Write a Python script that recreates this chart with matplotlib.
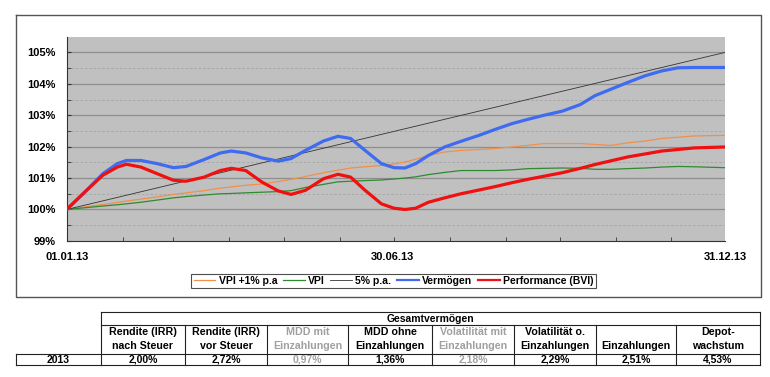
import matplotlib
matplotlib.use('Agg')
from matplotlib import pyplot as plt
from matplotlib.ticker import FixedLocator, FuncFormatter

plt.rcParams['font.family'] = ['Liberation Sans', 'DejaVu Sans']

# ---------------- data ----------------
days = [0, 11, 20, 28, 33, 41, 50, 59, 66, 76, 85, 91, 99, 108, 117, 124, 132, 142,
        150, 157, 165, 174, 181, 187, 193, 200, 209, 218, 228, 237, 246, 255, 264,
        274, 284, 292, 301, 310, 320, 329, 338, 347, 364]

vermoegen = [100.00, 100.61, 101.14, 101.46, 101.56, 101.56, 101.46, 101.33, 101.37,
             101.59, 101.80, 101.86, 101.80, 101.64, 101.54, 101.62, 101.88, 102.18,
             102.33, 102.26, 101.88, 101.46, 101.33, 101.32, 101.46, 101.72, 101.99,
             102.17, 102.36, 102.55, 102.73, 102.87, 103.00, 103.13, 103.34, 103.62,
             103.83, 104.04, 104.26, 104.41, 104.51, 104.52, 104.52]

performance = [100.00, 100.61, 101.09, 101.35, 101.44, 101.35, 101.14, 100.93, 100.90,
               101.03, 101.24, 101.31, 101.24, 100.87, 100.59, 100.48, 100.61, 100.98,
               101.12, 101.03, 100.61, 100.18, 100.04, 100.00, 100.04, 100.23, 100.37,
               100.50, 100.62, 100.73, 100.85, 100.96, 101.06, 101.17, 101.31, 101.43,
               101.55, 101.67, 101.77, 101.86, 101.91, 101.96, 101.99]

vpi_plus1 = [100.00, 100.09, 100.16, 100.22, 100.27, 100.33, 100.40, 100.48, 100.53,
             100.60, 100.68, 100.72, 100.77, 100.81, 100.89, 100.96, 101.05, 101.17,
             101.25, 101.32, 101.36, 101.40, 101.45, 101.51, 101.60, 101.72, 101.83,
             101.88, 101.91, 101.94, 101.99, 102.04, 102.10, 102.10, 102.10, 102.07,
             102.04, 102.12, 102.18, 102.26, 102.30, 102.34, 102.36]

vpi = [100.00, 100.06, 100.11, 100.15, 100.18, 100.23, 100.30, 100.37, 100.41, 100.46,
       100.50, 100.51, 100.53, 100.55, 100.57, 100.60, 100.70, 100.80, 100.88, 100.90,
       100.92, 100.94, 100.97, 101.00, 101.04, 101.11, 101.18, 101.24, 101.24, 101.24,
       101.26, 101.30, 101.31, 101.32, 101.31, 101.28, 101.28, 101.30, 101.32, 101.35,
       101.37, 101.36, 101.33]

p5_days = [0, 364]
p5 = [100.0, 105.0]

x_label_days = [0, 180, 364]
x_labels = ['01.01.13', '30.06.13', '31.12.13']
month_days = [0, 31, 59, 90, 120, 151, 181, 212, 243, 273, 304, 334, 364]

table_title = 'Gesamtvermögen'
table_year = '2013'
table_heads = ['Rendite (IRR)\nnach Steuer', 'Rendite (IRR)\nvor Steuer', 'MDD mit\nEinzahlungen',
               'MDD ohne\nEinzahlungen', 'Volatilität mit\nEinzahlungen', 'Volatilität o.\nEinzahlungen',
               '\nEinzahlungen', 'Depot-\nwachstum']
table_values = ['2,00%', '2,72%', '0,97%', '1,36%', '2,18%', '2,29%', '2,51%', '4,53%']
table_grey = [False, False, True, False, True, False, False, False]

# ---------------- figure ----------------
W, H = 770, 377
fig = plt.figure(figsize=(W / 100, H / 100), dpi=100)
fig.patch.set_facecolor('white')

# overlay in pixel coords for frame + table
ov = fig.add_axes([0, 0, 1, 1])
ov.set_xlim(0, W)
ov.set_ylim(H, 0)
ov.axis('off')

ax = fig.add_axes([66.7 / W, 1 - 240.9 / H, (725 - 66.7) / W, (240.9 - 36.7) / H])
ax.set_facecolor('#C0C0C0')

for y in range(100, 106):
    ax.axhline(y, color='#8E8E8E', lw=0.9, zorder=1)
for y in [99.5, 100.5, 101.5, 102.5, 103.5, 104.5]:
    ax.axhline(y, color='#A8A8A8', lw=0.7, ls=(0, (2.5, 2)), zorder=1)

ax.plot(days, vpi_plus1, color='#F0904A', lw=0.9, zorder=3, label='VPI +1% p.a')
ax.plot(days, vpi, color='#2E8B2E', lw=0.9, zorder=3, label='VPI')
ax.plot(p5_days, p5, color='#333333', lw=0.6, zorder=3, label='5% p.a.')
ax.plot(days, vermoegen, color='#3F6BF0', lw=2.3, zorder=4, label='Vermögen')
ax.plot(days, performance, color='#F01010', lw=2.3, zorder=5, label='Performance (BVI)')

ax.set_xlim(0, 364)
ax.set_ylim(99, 105.5)
ax.set_yticks(range(99, 106))
ax.yaxis.set_major_formatter(FuncFormatter(lambda v, p: '%d%%' % v))
ax.yaxis.set_minor_locator(FixedLocator([99.5, 100.5, 101.5, 102.5, 103.5, 104.5]))
ax.tick_params(axis='y', which='both', direction='in', length=3, color='#333333',
               labelsize=8, pad=8)
ax.set_xticks(x_label_days)
ax.set_xticklabels(x_labels)
ax.xaxis.set_minor_locator(FixedLocator(month_days))
ax.tick_params(axis='x', which='major', length=0, labelsize=8, pad=8)
ax.tick_params(axis='x', which='minor', direction='in', length=3, color='#333333')
for lab in ax.get_xticklabels() + ax.get_yticklabels():
    lab.set_fontweight('bold')
ax.spines['top'].set_visible(False)
ax.spines['right'].set_visible(False)
ax.spines['left'].set_color('#333333')
ax.spines['bottom'].set_color('#333333')

handles, labels = ax.get_legend_handles_labels()
leg = fig.legend(handles, labels, loc='center', ncol=5,
                 bbox_to_anchor=(393.5 / W, 1 - 281 / H), fontsize=7.5,
                 frameon=True, fancybox=False, handlelength=2.1, handletextpad=0.3,
                 columnspacing=0.55, borderpad=0.2, borderaxespad=0)
leg.get_frame().set_edgecolor('#222222')
leg.get_frame().set_linewidth(0.8)
for t in leg.get_texts():
    t.set_fontweight('bold')
for l in leg.get_lines():
    l.set_linewidth(min(l.get_linewidth(), 1.6))

# outer chart frame
ov.plot([16, 761, 761, 16, 16], [15, 15, 297, 297, 15], color='#555555', lw=1)

# ---------------- table ----------------
cols = [101, 185, 267, 348, 432, 514, 596, 676, 760]
r0, r1, r2, r3 = 312, 325, 354, 365
lc = '#222222'
lw = 0.8
ov.plot([101, 760], [r0, r0], color=lc, lw=lw)
ov.plot([101, 760], [r1, r1], color=lc, lw=lw)
ov.plot([16, 760], [r2, r2], color=lc, lw=lw)
ov.plot([16, 760], [r3, r3], color=lc, lw=lw)
ov.plot([16, 16], [r2, r3], color=lc, lw=lw)
for i, c in enumerate(cols):
    top = r0 if i in (0, len(cols) - 1) else r1
    ov.plot([c, c], [top, r3], color=lc, lw=lw)

ov.text((cols[0] + cols[-1]) / 2, (r0 + r1) / 2 + 0.5, table_title, ha='center',
        va='center', fontsize=7.5, fontweight='bold')
ov.text(58, (r2 + r3) / 2 + 0.5, table_year, ha='center', va='center',
        fontsize=7.5, fontweight='bold')
for i in range(len(table_heads)):
    cx = (cols[i] + cols[i + 1]) / 2
    col = '#A0A0A0' if table_grey[i] else 'black'
    l1, l2 = table_heads[i].split('\n')
    ov.text(cx, 332, l1, ha='center', va='center', fontsize=7.7,
            fontweight='bold', color=col)
    ov.text(cx, 346, l2, ha='center', va='center', fontsize=7.7,
            fontweight='bold', color=col)
    ov.text(cx, (r2 + r3) / 2 + 0.5, table_values[i], ha='center', va='center',
            fontsize=7.5, fontweight='bold', color=col)

fig.savefig('out.png', dpi=100)
